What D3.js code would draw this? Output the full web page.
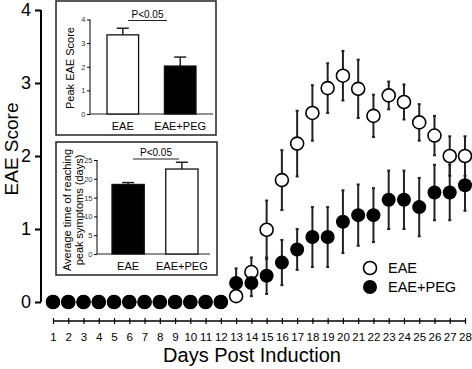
<!DOCTYPE html>
<html><head><meta charset="utf-8">
<script src="https://cdn.jsdelivr.net/npm/d3@7"></script>
<style>body{margin:0;background:#fff}svg{display:block;font-family:"Liberation Sans",Arial,sans-serif}</style>
</head><body><svg id="c" width="472" height="369"></svg>
<script>
const days = d3.range(1, 29);
const eaeMean = [0,0,0,0,0,0,0,0,0,0,0,0,0.08,0.41,0.99,1.67,2.17,2.59,2.93,3.10,2.92,2.55,2.83,2.74,2.46,2.28,2.00,2.00];
const eaeErr  = [0,0,0,0,0,0,0,0,0,0,0,0,0.05,0.20,0.40,0.41,0.45,0.38,0.34,0.34,0.40,0.29,0.19,0.24,0.25,0.27,0.27,0.27];
const pegMean = [0,0,0,0,0,0,0,0,0,0,0,0,0.26,0.26,0.36,0.54,0.72,0.89,0.89,1.10,1.19,1.19,1.40,1.40,1.30,1.50,1.50,1.60];
const pegErr  = [0,0,0,0,0,0,0,0,0,0,0,0,0.20,0.18,0.25,0.31,0.28,0.41,0.41,0.43,0.42,0.37,0.40,0.40,0.40,0.38,0.38,0.35];
const yTicks = [0,1,2,3,4];
const seriesNames = ["EAE", "EAE+PEG"];
// inset 1: peak score
const peakCats = ["EAE", "EAE+PEG"];
const peakVals = [3.35, 2.03];
const peakErr = [0.28, 0.38];
const peakTicks = [0,1,2,3,4];
// inset 2: time to peak
const timeCats = ["EAE", "EAE+PEG"];
const timeVals = [18.5, 22.6];
const timeErr = [0.5, 1.8];
const timeTicks = [0,5,10,15,20,25];

const svg = d3.select("#c");
const x = d3.scaleLinear().domain([1, 28]).range([53, 465]);
const y = d3.scaleLinear().domain([0, 4]).range([302, 10]);

// y axis
const ya = svg.append("g").attr("transform", "translate(41,0)")
  .call(d3.axisLeft(y).tickValues(yTicks).tickSize(6).tickPadding(4).tickFormat(d3.format("d")));
ya.select(".domain").attr("d", `M0,${y(4)}V${y(0)}`).attr("stroke-width", 2);
ya.selectAll(".tick line").attr("stroke-width", 2);
ya.selectAll(".tick text").attr("font-size", 18).attr("font-family", "Liberation Sans, Arial");

// x axis
const xa = svg.append("g").attr("transform", "translate(0,321)")
  .call(d3.axisBottom(x).tickValues(days).tickSize(0).tickPadding(12).tickFormat(d3.format("d")));
xa.select(".domain").attr("d", `M${x(1)},0H${x(28)}`).attr("stroke-width", 1.5);
xa.selectAll(".tick line").attr("y1", -3).attr("y2", 3).attr("stroke-width", 1.2);
xa.selectAll(".tick text").attr("font-size", 11.5).attr("font-family", "Liberation Sans, Arial");

svg.append("text").attr("transform", "translate(18,149) rotate(-90)").attr("text-anchor", "middle")
  .attr("font-size", 19).text("EAE Score");
svg.append("text").attr("x", 252).attr("y", 362).attr("text-anchor", "middle")
  .attr("font-size", 20).text("Days Post Induction");

function errBars(mean, err) {
  const g = svg.append("g").attr("stroke", "#222").attr("stroke-width", 2);
  days.forEach((d, i) => {
    if (err[i] <= 0) return;
    const cx = x(d), lo = y(mean[i] - err[i]), hi = y(mean[i] + err[i]);
    g.append("line").attr("x1", cx).attr("x2", cx).attr("y1", lo).attr("y2", hi);
    g.append("line").attr("x1", cx - 1.5).attr("x2", cx + 1.5).attr("y1", hi).attr("y2", hi);
    g.append("line").attr("x1", cx - 1.5).attr("x2", cx + 1.5).attr("y1", lo).attr("y2", lo);
  });
}
errBars(eaeMean, eaeErr);
errBars(pegMean, pegErr);

svg.append("g").selectAll("circle").data(days).join("circle")
  .attr("cx", d => x(d)).attr("cy", (d, i) => y(eaeMean[i])).attr("r", 6.5)
  .attr("fill", "#fff").attr("stroke", "#000").attr("stroke-width", 1.6);
svg.append("g").selectAll("circle").data(days).join("circle")
  .attr("cx", d => x(d)).attr("cy", (d, i) => y(pegMean[i])).attr("r", 7)
  .attr("fill", "#000");

// legend
const lg = svg.append("g");
lg.append("circle").attr("cx", 370).attr("cy", 268).attr("r", 6.5).attr("fill", "#fff").attr("stroke", "#000").attr("stroke-width", 1.6);
lg.append("circle").attr("cx", 370).attr("cy", 287).attr("r", 7).attr("fill", "#000");
lg.append("text").attr("x", 388).attr("y", 273).attr("font-size", 14.5).text(seriesNames[0]);
lg.append("text").attr("x", 388).attr("y", 292).attr("font-size", 14.5).text(seriesNames[1]);

function inset(box, axX, y0, y1, dom, ticks, cats, vals, errs, fills, bars, sig, ylabel, labOff) {
  const g = svg.append("g");
  g.append("rect").attr("x", box[0]).attr("y", box[1]).attr("width", box[2]).attr("height", box[3])
    .attr("fill", "#fff").attr("stroke", "#222").attr("stroke-width", 1.5);
  const ys = d3.scaleLinear().domain(dom).range([y0, y1]);
  const ag = g.append("g").attr("transform", `translate(${axX},0)`)
    .call(d3.axisLeft(ys).tickValues(ticks).tickSize(3).tickPadding(1.5).tickFormat(d3.format("d")));
  ag.select(".domain").attr("d", `M0,${y1}V${y0}`);
  ag.selectAll(".tick text").attr("font-size", 7.5).attr("fill", "#333");
  g.append("line").attr("x1", axX).attr("x2", bars.xEnd).attr("y1", y0).attr("y2", y0).attr("stroke", "#222");
  const xb = d3.scaleBand().domain(cats).range([bars.x0, bars.x1]).paddingInner(bars.pad);
  cats.forEach((c, i) => {
    const bx = xb(c), bw = xb.bandwidth(), cx = bx + bw / 2;
    g.append("line").attr("x1", cx).attr("x2", cx).attr("y1", ys(vals[i])).attr("y2", ys(vals[i] + errs[i])).attr("stroke", "#222").attr("stroke-width", 1.5);
    g.append("line").attr("x1", cx - 6).attr("x2", cx + 6).attr("y1", ys(vals[i] + errs[i])).attr("y2", ys(vals[i] + errs[i])).attr("stroke", "#222").attr("stroke-width", 1.5);
    g.append("rect").attr("x", bx).attr("y", ys(vals[i])).attr("width", bw).attr("height", y0 - ys(vals[i]))
      .attr("fill", fills[i]).attr("stroke", "#111").attr("stroke-width", 1.3);
    g.append("text").attr("x", cx).attr("y", y0 + labOff).attr("text-anchor", "middle").attr("font-size", 11).text(c);
  });
  g.append("line").attr("x1", sig.x0).attr("x2", sig.x1).attr("y1", sig.y).attr("y2", sig.y).attr("stroke", "#222").attr("stroke-width", 1.2);
  g.append("text").attr("x", (sig.x0 + sig.x1) / 2).attr("y", sig.y - 3).attr("text-anchor", "middle").attr("font-size", 10).text("P<0.05");
  ylabel.forEach((t, k) => {
    g.append("text").attr("transform", `translate(${t.x},${t.y}) rotate(-90)`).attr("text-anchor", "middle")
      .attr("font-size", 11).text(t.s);
  });
}
inset([56, 1, 160, 134], 90, 114, 19.5, [0, 4], peakTicks, peakCats, peakVals, peakErr, ["#fff", "#000"],
  {x0: 107, x1: 196, pad: 0.45, xEnd: 213}, {x0: 128, x1: 167, y: 20.5},
  [{x: 74, y: 68, s: "Peak EAE Score"}], 15.5);
inset([56, 142, 161, 133], 97, 254, 160, [0, 25], timeTicks, timeCats, timeVals, timeErr, ["#000", "#fff"],
  {x0: 112, x1: 198, pad: 0.4, xEnd: 210}, {x0: 133, x1: 179, y: 159},
  [{x: 70.5, y: 210, s: "Average time of reaching"}, {x: 83, y: 210, s: "peak symptoms (days)"}], 16);
</script></body></html>
